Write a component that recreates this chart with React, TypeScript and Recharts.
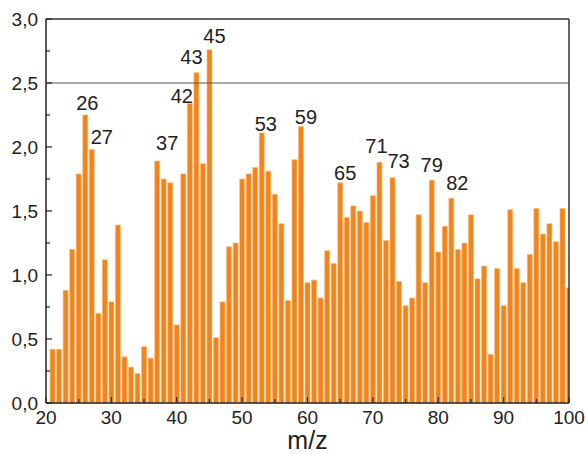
import { BarChart, Bar, XAxis, YAxis, ReferenceLine, LabelList } from "recharts";

const MZ = [
  21, 22, 23, 24, 25, 26, 27, 28, 29, 30,
  31, 32, 33, 34, 35, 36, 37, 38, 39, 40,
  41, 42, 43, 44, 45, 46, 47, 48, 49, 50,
  51, 52, 53, 54, 55, 56, 57, 58, 59, 60,
  61, 62, 63, 64, 65, 66, 67, 68, 69, 70,
  71, 72, 73, 74, 75, 76, 77, 78, 79, 80,
  81, 82, 83, 84, 85, 86, 87, 88, 89, 90,
  91, 92, 93, 94, 95, 96, 97, 98, 99, 100,
];

const INTENSITY = [
  0.42, 0.42, 0.88, 1.2, 1.79, 2.25, 1.98, 0.7, 1.12, 0.79,
  1.39, 0.36, 0.28, 0.23, 0.44, 0.35, 1.89, 1.75, 1.72, 0.61,
  1.79, 2.34, 2.58, 1.87, 2.76, 0.51, 0.79, 1.22, 1.25, 1.75,
  1.79, 1.84, 2.11, 1.81, 1.63, 1.4, 0.8, 1.9, 2.16, 0.94,
  0.96, 0.82, 1.19, 1.09, 1.72, 1.45, 1.54, 1.5, 1.41, 1.62,
  1.88, 1.27, 1.76, 0.95, 0.76, 0.82, 1.47, 0.94, 1.74, 1.18,
  1.38, 1.6, 1.2, 1.25, 1.47, 0.97, 1.07, 0.38, 1.05, 0.76,
  1.51, 1.05, 0.94, 1.16, 1.52, 1.32, 1.4, 1.26, 1.52, 0.9,
];

// peaks that carry their m/z as a label
const LABELED = [26, 27, 37, 42, 43, 45, 53, 59, 65, 71, 73, 79, 82];

const X_TICKS = [20, 25, 30, 35, 40, 45, 50, 55, 60, 65, 70, 75, 80, 85, 90, 95, 100];
const Y_TICKS = [0, 0.25, 0.5, 0.75, 1, 1.25, 1.5, 1.75, 2, 2.25, 2.5, 2.75, 3];

const data = MZ.map((mz, i) => ({ mz, v: INTENSITY[i] }));

// label nudges [dx, gap above bar top]
const LABEL_OFFSET: Record<number, [number, number]> = {
  26: [2, 5], 27: [10, 6], 37: [10, 11], 42: [-8, 0], 43: [-5, 9], 45: [5, 7],
  53: [4, 2], 59: [5, 3], 65: [5, 3], 71: [-3, 9], 73: [6, 10], 79: [0, 8], 82: [6, 8],
};

const FONT = "'Liberation Sans', Arial, sans-serif";
const INK = "#222";

const XTick = (props: any) => {
  const { x, y, payload } = props;
  const v = payload.value;
  const major = v % 10 === 0;
  const ay = y - 8;
  return (
    <g>
      <line x1={x} x2={x} y1={ay} y2={ay - (major ? 6 : 4)} stroke="#3a2412" strokeWidth={1.2} />
      {major && (
        <text x={x} y={y} dy="0.71em" textAnchor="middle" fontSize={19} fontFamily={FONT} fill={INK}>
          {v}
        </text>
      )}
    </g>
  );
};

const YTick = (props: any) => {
  const { x, y, payload } = props;
  const v = payload.value;
  const major = Math.abs(v * 2 - Math.round(v * 2)) < 1e-6;
  const ax = x + 8;
  return (
    <g>
      <line x1={ax} x2={ax + (major ? 6 : 4)} y1={y} y2={y} stroke={INK} strokeWidth={1.2} />
      {major && (
        <text x={x} y={y} dy="0.35em" textAnchor="end" fontSize={19} fontFamily={FONT} fill={INK}>
          {v.toFixed(1).replace(".", ",")}
        </text>
      )}
    </g>
  );
};

const PeakLabel = (props: any) => {
  const { x, y, width, value } = props;
  if (!LABELED.includes(value)) return null;
  const [dx, gap] = LABEL_OFFSET[value] || [0, 4];
  return (
    <text x={x + width / 2 + dx} y={y - gap} textAnchor="middle" fontSize={20} fontFamily={FONT} fill={INK}>
      {value}
    </text>
  );
};

export default function App() {
  return (
    <div style={{ position: "absolute", left: 0, top: 0, background: "#fff" }}>
      <BarChart width={588} height={454} data={data} margin={{ top: 19, right: 19, left: 0, bottom: 0 }} barCategoryGap={0.8}>
        <XAxis
          dataKey="mz"
          type="number"
          domain={[20, 100]}
          allowDataOverflow
          ticks={X_TICKS}
          interval={0}
          tick={<XTick />}
          tickSize={0}
          tickMargin={8}
          tickLine={false}
          axisLine={{ stroke: INK, strokeWidth: 1.5 }}
          height={51}
          label={{ value: "m/z", position: "insideBottom", offset: 5, fontSize: 25, fontFamily: FONT, fill: INK }}
        />
        <YAxis
          type="number"
          domain={[0, 3]}
          allowDataOverflow
          ticks={Y_TICKS}
          interval={0}
          tick={<YTick />}
          tickSize={0}
          tickMargin={8}
          tickLine={false}
          axisLine={{ stroke: INK, strokeWidth: 1.5 }}
          width={46}
        />
        <ReferenceLine y={2.5} stroke="#555" strokeWidth={1} />
        <ReferenceLine y={3} stroke="#333" strokeWidth={1.5} />
        <ReferenceLine x={100} stroke="#333" strokeWidth={1.5} />
        <Bar dataKey="v" fill="#F1851B" stroke="#F8B978" strokeWidth={0.6} isAnimationActive={false}>
          <LabelList dataKey="mz" content={<PeakLabel />} />
        </Bar>
      </BarChart>
    </div>
  );
}
